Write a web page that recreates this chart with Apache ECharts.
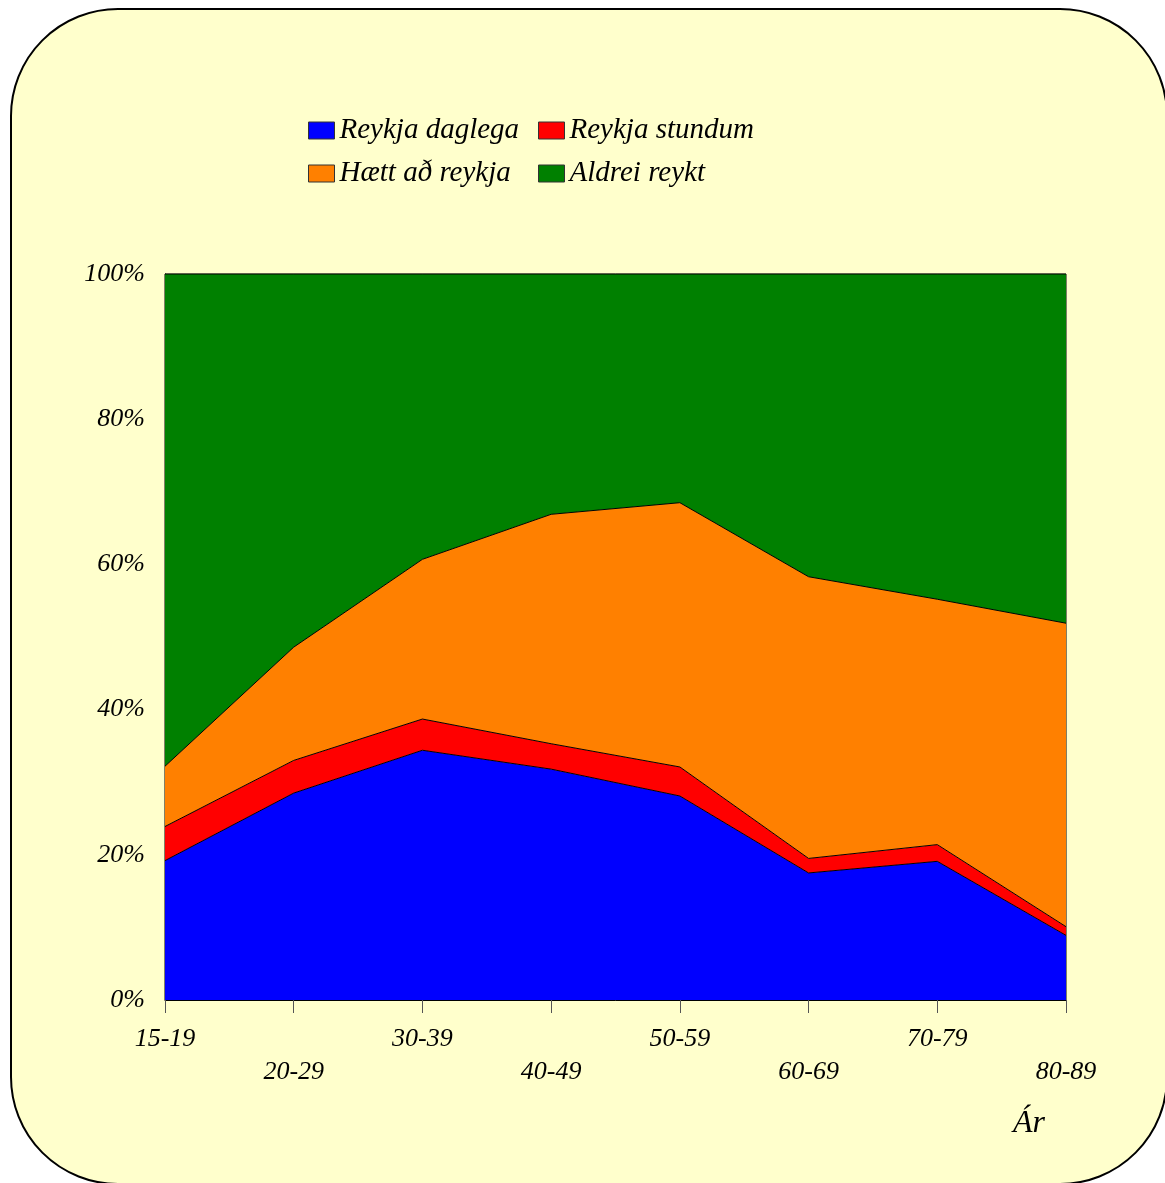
<!DOCTYPE html>
<html>
<head>
<meta charset="utf-8">
<script src="https://cdn.jsdelivr.net/npm/echarts@6/dist/echarts.min.js"></script>
<style>
html,body{margin:0;padding:0;background:#ffffff;}
#chart{width:1165px;height:1183px;}
</style>
</head>
<body>
<div id="chart"></div>
<script>
var categories = ['15-19','20-29','30-39','40-49','50-59','60-69','70-79','80-89'];
var daglega  = [19.2, 28.5, 34.4, 31.8, 28.1, 17.5, 19.1, 8.9];
var stundum  = [4.7, 4.5, 4.3, 3.5, 4.0, 2.0, 2.3, 1.2];
var haett    = [8.3, 15.6, 22.0, 31.6, 36.4, 38.8, 33.8, 41.8];
var aldrei   = [67.8, 51.4, 39.3, 33.1, 31.5, 41.7, 44.8, 48.1];
var seriesNames = ['Reykja daglega','Reykja stundum','Hætt að reykja','Aldrei reykt'];
var seriesColors = ['#0000FF','#FF0000','#FF8000','#008000'];
var axisName = 'Ár';

var FONT = '"Liberation Serif", "Times New Roman", serif';
var chart = echarts.init(document.getElementById('chart'));

function mkSeries(i, data){
  return {
    name: seriesNames[i], type: 'line', stack: 'total', data: data,
    symbol: 'none', smooth: false,
    itemStyle: {color: seriesColors[i]},
    lineStyle: {color: '#000', width: 1},
    areaStyle: {color: seriesColors[i], opacity: 1},
    emphasis: {disabled: true}
  };
}
function mkLegend(name, left, top){
  return {
    data: [name], left: left, top: top, padding: 0,
    icon: 'rect', itemWidth: 26, itemHeight: 17, itemGap: 0,
    itemStyle: {borderColor: '#333', borderWidth: 1},
    textStyle: {fontFamily: FONT, fontStyle: 'italic', fontSize: 29, color: '#000', padding: [0,0,0,0]},
    selectedMode: false
  };
}

chart.setOption({
  animation: false,
  backgroundColor: '#ffffff',
  graphic: [
    {type: 'rect', z: -10, silent: true,
     shape: {x: 11, y: 9, width: 1156, height: 1175, r: 107},
     style: {fill: '#FFFFCC', stroke: '#000', lineWidth: 2}},
    {type: 'text', left: 1013, top: 1108, silent: true,
     style: {text: axisName, fontFamily: FONT, fontStyle: 'italic', fontSize: 32, fill: '#000'}}
  ],
  legend: [
    mkLegend(seriesNames[0], 308, 116),
    mkLegend(seriesNames[1], 538, 116),
    mkLegend(seriesNames[2], 308, 159),
    mkLegend(seriesNames[3], 538, 159)
  ],
  grid: {left: 165, right: 99, top: 274, bottom: 183, show: true,
         borderColor: '#000', borderWidth: 1, backgroundColor: 'transparent'},
  xAxis: {
    type: 'category', data: categories, boundaryGap: false,
    axisLine: {show: true, lineStyle: {color: '#000', width: 1}},
    axisTick: {show: true, length: 13, inside: false, lineStyle: {color: '#555'}},
    axisLabel: {
      interval: 0, margin: 23, fontFamily: FONT, fontStyle: 'italic', fontSize: 26,
      color: '#000', lineHeight: 33,
      formatter: function(v, i){ return (i % 2 === 1) ? '\n' + v : v; }
    },
    splitLine: {show: false}
  },
  yAxis: {
    type: 'value', min: 0, max: 100, interval: 20,
    axisLine: {show: true, lineStyle: {color: '#000'}},
    axisTick: {show: false},
    splitLine: {show: false},
    axisLabel: {margin: 20, fontFamily: FONT, fontStyle: 'italic', fontSize: 26, color: '#000',
      formatter: '{value}%'}
  },
  series: [
    mkSeries(0, daglega),
    mkSeries(1, stundum),
    mkSeries(2, haett),
    mkSeries(3, aldrei)
  ]
});
</script>
</body>
</html>
